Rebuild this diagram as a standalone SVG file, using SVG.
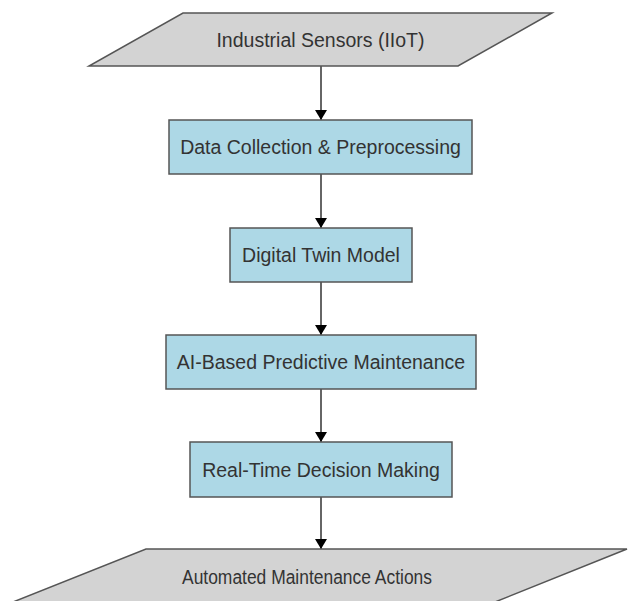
<svg xmlns="http://www.w3.org/2000/svg" width="628" height="601" viewBox="0 0 628 601">
<style>
.io{fill:#d3d3d3;stroke:#555;stroke-width:1.5}
.box{fill:#add8e6;stroke:#555;stroke-width:1.5}
.lbl{font-family:"Liberation Sans",Arial,sans-serif;font-size:19.5px;fill:#333;text-anchor:middle}
.edge{stroke:#333;stroke-width:1.5;fill:none;marker-end:url(#arr)}
</style>
<defs>
<marker id="arr" viewBox="0 0 10 12" refX="10" refY="6" markerWidth="10" markerHeight="12" markerUnits="userSpaceOnUse" orient="auto">
<path d="M0,0 L10,6 L0,12 Z" fill="#000"/>
</marker>
</defs>
<rect width="628" height="601" fill="#fff"/>
<g id="edges">
<line class="edge" x1="321" y1="66" x2="321" y2="120"/>
<line class="edge" x1="321" y1="174" x2="321" y2="228"/>
<line class="edge" x1="321" y1="282" x2="321" y2="335"/>
<line class="edge" x1="321" y1="389" x2="321" y2="442"/>
<line class="edge" x1="321" y1="497" x2="321" y2="549"/>
</g>
<g id="n1">
<polygon class="io" points="183,13 552,13 458,66 89,66"/>
<text class="lbl" x="320.5" y="47">Industrial Sensors (IIoT)</text>
</g>
<g id="n2">
<rect class="box" x="169" y="120" width="303" height="54"/>
<text class="lbl" x="320.5" y="154">Data Collection &amp; Preprocessing</text>
</g>
<g id="n3">
<rect class="box" x="230" y="228" width="182" height="54"/>
<text class="lbl" x="321" y="262">Digital Twin Model</text>
</g>
<g id="n4">
<rect class="box" x="166" y="335" width="310" height="54"/>
<text class="lbl" x="321" y="369">AI-Based Predictive Maintenance</text>
</g>
<g id="n5">
<rect class="box" x="190" y="442" width="262" height="55"/>
<text class="lbl" x="321" y="476.5">Real-Time Decision Making</text>
</g>
<g id="n6">
<polygon class="io" points="146,549 627,549 495,602 13,602"/>
<text class="lbl" x="307" y="584" textLength="250" lengthAdjust="spacingAndGlyphs">Automated Maintenance Actions</text>
</g>
</svg>
